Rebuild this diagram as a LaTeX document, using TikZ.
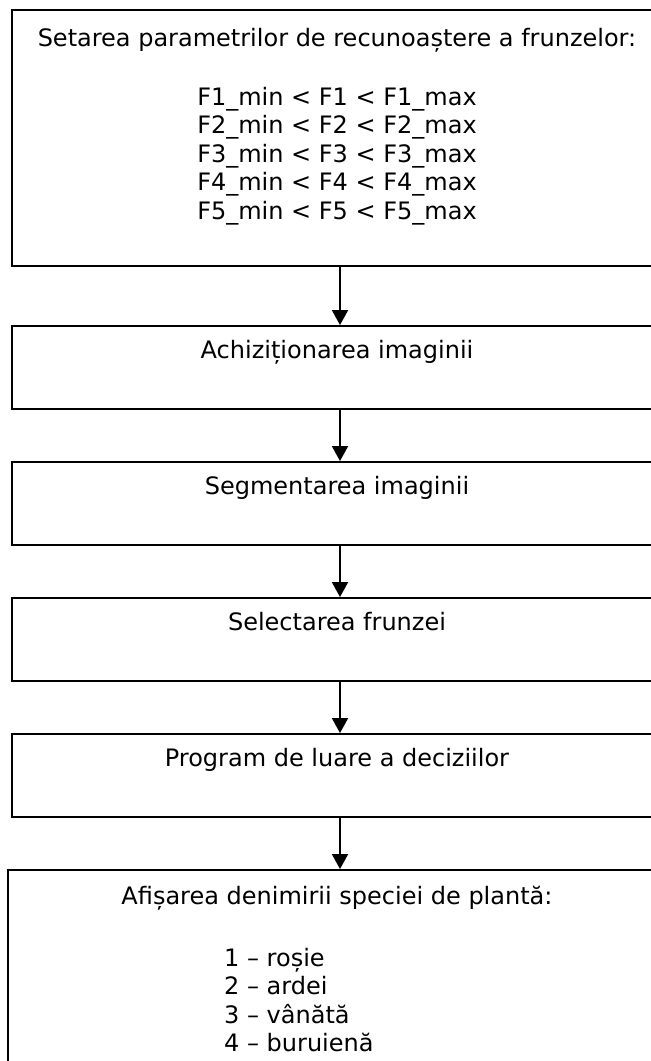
\documentclass[tikz,border=0pt]{standalone}
\usepackage{fontspec}
\setmainfont{DejaVu Sans}
\usetikzlibrary{arrows.meta}
\begin{document}
\begin{tikzpicture}[x=1pt,y=-1pt,
  box/.style={draw, line width=1.9pt, rectangle, minimum width=656pt, inner sep=0pt},
  conn/.style={line width=1.9pt, -{Triangle[length=15pt,width=16pt]}},
  txt/.style={font=\fontsize{24}{28.5}\selectfont, inner sep=0pt, anchor=base}]
\useasboundingbox (0,0) rectangle (651,1061);
\clip (0,0) rectangle (651,1061);
% boxes
\node[box, minimum height=256pt] (b1) at (340,138) {};
\node[box, minimum height=83pt] (b2) at (340,367.5) {};
\node[box, minimum height=83pt] (b3) at (340,503.5) {};
\node[box, minimum height=83pt] (b4) at (340,639.5) {};
\node[box, minimum height=83pt] (b5) at (340,775.5) {};
\node[box, minimum height=330pt, minimum width=664pt] (b6) at (340,1035) {};
% texts
\node[txt] (t1) at (337,46) {Setarea parametrilor de recunoaștere a frunzelor:};
\node[txt] (f1) at (337,105) {F1\_min < F1 < F1\_max};
\node[txt] (f2) at (337,133.5) {F2\_min < F2 < F2\_max};
\node[txt] (f3) at (337,162) {F3\_min < F3 < F3\_max};
\node[txt] (f4) at (337,190.5) {F4\_min < F4 < F4\_max};
\node[txt] (f5) at (337,219) {F5\_min < F5 < F5\_max};
\node[txt] (t2) at (337,358) {Achiziționarea imaginii};
\node[txt] (t3) at (337,494) {Segmentarea imaginii};
\node[txt] (t4) at (337,630) {Selectarea frunzei};
\node[txt] (t5) at (337,766) {Program de luare a deciziilor};
\node[txt] (t6) at (337,904) {Afișarea denimirii speciei de plantă:};
\node[txt, anchor=base west] (s1) at (224,966) {1 – roșie};
\node[txt, anchor=base west] (s2) at (224,994.5) {2 – ardei};
\node[txt, anchor=base west] (s3) at (224,1023) {3 – vânătă};
\node[txt, anchor=base west] (s4) at (224,1051.5) {4 – buruienă};
% connectors
\draw[conn] (b1.south) -- (b2.north);
\draw[conn] (b2.south) -- (b3.north);
\draw[conn] (b3.south) -- (b4.north);
\draw[conn] (b4.south) -- (b5.north);
\draw[conn] (b5.south) -- (b6.north);
\end{tikzpicture}
\end{document}
